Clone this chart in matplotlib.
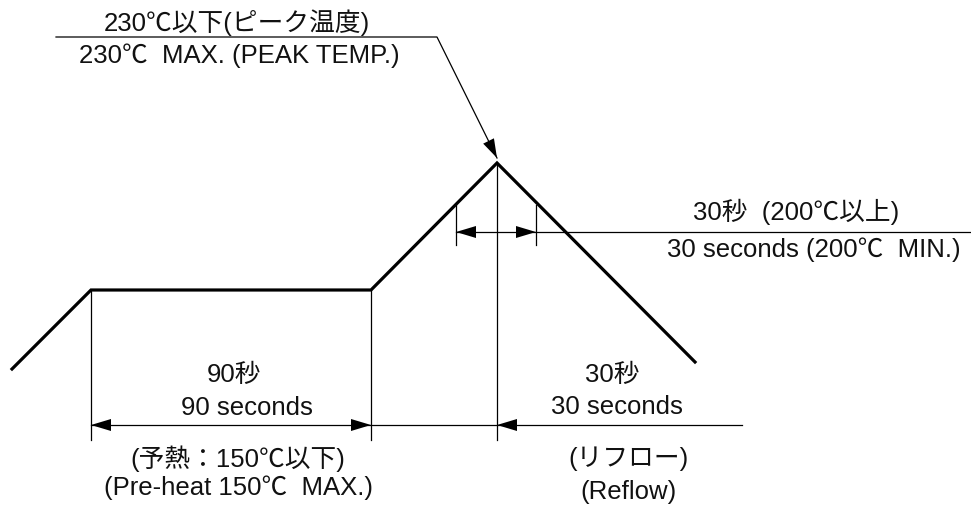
import numpy as np
import matplotlib
matplotlib.use("Agg")
import matplotlib.pyplot as plt

plt.rcParams['font.family'] = ['Liberation Sans', 'Noto Sans CJK JP', 'DejaVu Sans']

# Reflow profile (drawing coordinates: x to the right, y downward)
profile_x = [12, 91, 371, 497, 695]
profile_y = [369, 290, 290, 163, 362]

# Dimension (time) line below the profile
dim_y = 425
dim_ext_x = [91, 371, 497]          # extension lines
dim_ext_top = [290, 290, 163]
dim_ext_bottom = 440
dim_line_x = [91, 742]

# 200°C-min dimension
short_y = 232
short_ext_x = [456, 536]
short_ext_top = 205
short_ext_bottom = 245
short_line_end = 971

# Leader to the peak
leader_x = [56, 437, 497]
leader_y = [37, 37, 158]

labels = [
    ("230℃以下(ピーク温度)", 237, 23),
    ("230℃  MAX. (PEAK TEMP.)", 239, 56),
    ("30秒  (200℃以上)", 796, 212),
    ("30 seconds (200℃  MIN.)", 814, 250),
    ("90秒", 234, 375),
    ("90 seconds", 247, 408),
    ("(予熱：150℃以下)", 238, 459),
    ("(Pre-heat 150℃  MAX.)", 238, 488),
    ("30秒", 612, 375),
    ("30 seconds", 617, 407),
    ("(リフロー)", 628, 459),
    ("(Reflow)", 628, 492),
]

fig = plt.figure(figsize=(9.71, 5.07), dpi=100)
ax = fig.add_axes([0, 0, 1, 1])
ax.set_xlim(0, 971)
ax.set_ylim(507, 0)
ax.axis('off')

thin = 0.9
head_len = 20
head_hw = 6


def arrowhead(tip, frm, L=head_len, hw=head_hw):
    tip = np.array(tip, float)
    frm = np.array(frm, float)
    d = tip - frm
    d /= np.hypot(*d)
    n = np.array([-d[1], d[0]])
    base = tip - d * L
    pts = np.array([tip, base + n * hw, base - n * hw])
    ax.fill(pts[:, 0], pts[:, 1], color='black', lw=0)


# profile
ax.plot(profile_x, profile_y, color='black', lw=2.3, solid_joinstyle='miter')

# extension lines
for x, top in zip(dim_ext_x, dim_ext_top):
    ax.plot([x, x], [top, dim_ext_bottom], color='black', lw=thin)
ax.plot(dim_line_x, [dim_y, dim_y], color='black', lw=thin)
arrowhead((dim_ext_x[0], dim_y), (dim_ext_x[1], dim_y))
arrowhead((dim_ext_x[1], dim_y), (dim_ext_x[0], dim_y))
arrowhead((dim_ext_x[2], dim_y), (dim_line_x[1], dim_y))

# short dimension
for x in short_ext_x:
    ax.plot([x, x], [short_ext_top, short_ext_bottom], color='black', lw=thin)
ax.plot([short_ext_x[0], short_line_end], [short_y, short_y], color='black', lw=thin)
arrowhead((short_ext_x[0], short_y), (short_ext_x[1], short_y))
arrowhead((short_ext_x[1], short_y), (short_ext_x[0], short_y))

# leader
ax.plot(leader_x, leader_y, color='black', lw=thin)
arrowhead((leader_x[2], leader_y[2]), (leader_x[1], leader_y[1]), L=19, hw=6)

for txt, x, y in labels:
    ax.text(x, y, txt, ha='center', va='center', fontsize=18.5, color='#111111')

fig.savefig('out.png', dpi=100)
